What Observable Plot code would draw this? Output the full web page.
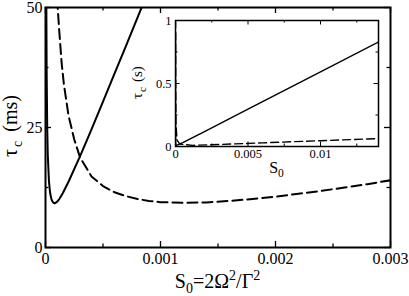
<!DOCTYPE html>
<html><head><meta charset="utf-8">
<script src="https://cdn.jsdelivr.net/npm/d3@7"></script>
<script src="https://cdn.jsdelivr.net/npm/@observablehq/plot@0.6"></script>
<style>
body{margin:0;background:#fff}
#wrap{position:relative;width:409px;height:296px}
#wrap svg{position:absolute;left:0;top:0}
</style>
</head><body><div id="wrap"></div>
<script>
// ---- main panel data: S0 (dimensionless), tau_c (ms)
const solidS = [0.000005, 0.000007, 0.00001, 0.000015, 0.00002, 0.00003, 0.00004, 0.00005, 0.00006, 0.00007, 0.00008, 0.0001, 0.00012, 0.00015, 0.0002, 0.0003, 0.0004, 0.0005, 0.0006, 0.0007, 0.0008, 0.0009];
const solidT = [72, 51.9, 36.6, 24.9, 19.2, 13.8, 11.4, 10.2, 9.6, 9.3, 9.2, 9.5, 10.1, 11.3, 13.7, 19.0, 24.6, 30.4, 36.2, 42.0, 47.9, 53.8];
const dashS = [0.00009, 0.0001, 0.00011, 0.00012, 0.00014, 0.00016, 0.0002, 0.00025, 0.0003, 0.0004, 0.0005, 0.0006, 0.0007, 0.0008, 0.0009, 0.001, 0.0012, 0.0014, 0.0016, 0.0018, 0.002, 0.0022, 0.0024, 0.0026, 0.0028, 0.003];
const dashT = [58, 52, 48.5, 45, 38.5, 34, 27.5, 22.5, 18.8, 14.8, 12.8, 11.5, 10.7, 10.1, 9.7, 9.45, 9.3, 9.4, 9.7, 10.1, 10.6, 11.2, 11.8, 12.5, 13.2, 14.0];

// ---- inset data: S0, tau_c (s)
const inSolidS = [0.0000004, 0.000001, 0.000003, 0.00001, 0.00003, 0.00008, 0.0005, 0.002, 0.005, 0.01, 0.014];
const inSolidT = [0.9, 0.36, 0.12, 0.036, 0.014, 0.0092, 0.03, 0.119, 0.297, 0.593, 0.83];
const inDashS = [0.000005, 0.00001, 0.00003, 0.0001, 0.0003, 0.0012, 0.003, 0.006, 0.01, 0.014];
const inDashT = [1.1, 0.56, 0.19, 0.053, 0.019, 0.0093, 0.016, 0.029, 0.046, 0.063];

// ---- ticks
const xMajor = [0, 0.001, 0.002, 0.003];
const xMajorLabels = ["0", "0.001", "0.002", "0.003"];
const xMinor = [0.0005, 0.0015, 0.0025];
const yMajor = [0, 25, 50];
const yMajorLabels = ["0", "25", "50"];
const yMinor = [12.5, 37.5];

const ixMajor = [0, 0.005, 0.01];
const ixMajorLabels = ["0", "0.005", "0.01"];
const ixMinor = [0.0025, 0.0075, 0.0125];
const iyMajor = [0, 0.5, 1];
const iyMajorLabels = ["0", "0.5", "1"];
const iyMinor = [0.25, 0.75];

const W = 409, H = 296;
const font = "Liberation Serif";

function zip(a, b) { return a.map((v, i) => ({s: v, t: b[i]})); }

function tickMarks(pw, ph, xM, xm, yM, ym, big, small, sw) {
  return [
    Plot.ruleX(xM, {x: d => d, insetTop: ph - big, strokeWidth: sw}),
    Plot.ruleX(xM, {x: d => d, insetBottom: ph - big, strokeWidth: sw}),
    Plot.ruleX(xm, {x: d => d, insetTop: ph - small, strokeWidth: sw}),
    Plot.ruleX(xm, {x: d => d, insetBottom: ph - small, strokeWidth: sw}),
    Plot.ruleY(yM, {y: d => d, insetRight: pw - big, strokeWidth: sw}),
    Plot.ruleY(yM, {y: d => d, insetLeft: pw - big, strokeWidth: sw}),
    Plot.ruleY(ym, {y: d => d, insetRight: pw - small, strokeWidth: sw}),
    Plot.ruleY(ym, {y: d => d, insetLeft: pw - small, strokeWidth: sw})
  ];
}

// main panel
const mL = 45, mR = 19, mT = 7, mB = 49;
const pw = W - mL - mR, ph = H - mT - mB;
const main = Plot.plot({
  width: W, height: H,
  marginLeft: mL, marginRight: mR, marginTop: mT, marginBottom: mB,
  x: {domain: [0, 0.003], axis: null},
  y: {domain: [0, 50], axis: null},
  style: {fontFamily: font, fontSize: "16px", background: "white", overflow: "visible"},
  marks: [
    Plot.line(zip(solidS, solidT), {x: "s", y: "t", stroke: "black", strokeWidth: 2, clip: true}),
    Plot.line(zip(dashS, dashT), {x: "s", y: "t", stroke: "black", strokeWidth: 2, strokeDasharray: "10,5", clip: true}),
    ...tickMarks(pw, ph, xMajor, xMinor, yMajor, yMinor, 6, 3.5, 1.3),
    Plot.frame({stroke: "black", strokeWidth: 2}),
    Plot.text(xMajor, {x: d => d, text: (d, i) => xMajorLabels[i], frameAnchor: "bottom", dy: 11, lineAnchor: "middle", fontSize: 16, fontFamily: font, fill: "black"}),
    Plot.text(yMajor, {y: d => d, text: (d, i) => yMajorLabels[i], frameAnchor: "left", dx: -3, textAnchor: "end", lineAnchor: "middle", fontSize: 16, fontFamily: font, fill: "black"})
  ]
});

// inset panel
const iL = 175, iR = 31, iT = 20, iB = 150;
const ipw = W - iL - iR, iph = H - iT - iB;
const inset = Plot.plot({
  width: W, height: H,
  marginLeft: iL, marginRight: iR, marginTop: iT, marginBottom: iB,
  x: {domain: [0, 0.014], axis: null},
  y: {domain: [0, 1], axis: null},
  style: {fontFamily: font, fontSize: "12.5px", background: "transparent", overflow: "visible"},
  marks: [
    Plot.frame({fill: "white", stroke: "none"}),
    Plot.line(zip(inSolidS, inSolidT), {x: "s", y: "t", stroke: "black", strokeWidth: 1.4, clip: true}),
    Plot.line(zip(inDashS, inDashT), {x: "s", y: "t", stroke: "black", strokeWidth: 1.4, strokeDasharray: "8,4", clip: true}),
    ...tickMarks(ipw, iph, ixMajor, ixMinor, iyMajor, iyMinor, 4.5, 2.5, 1),
    Plot.frame({stroke: "black", strokeWidth: 1.5}),
    Plot.text(ixMajor, {x: d => d, text: (d, i) => ixMajorLabels[i], frameAnchor: "bottom", dy: 7, lineAnchor: "middle", fontSize: 12.5, fontFamily: font, fill: "black"}),
    Plot.text(iyMajor, {y: d => d, text: (d, i) => iyMajorLabels[i], frameAnchor: "left", dx: -4, textAnchor: "end", lineAnchor: "middle", fontSize: 12.5, fontFamily: font, fill: "black"})
  ]
});

const wrap = document.getElementById("wrap");
wrap.appendChild(main);
wrap.appendChild(inset);

// axis titles with sub/superscripts
function addLabel(svg, x, y, rotate, anchor, size, parts) {
  const t = d3.select(svg).append("text")
    .attr("text-anchor", anchor)
    .attr("font-family", font)
    .attr("font-size", size)
    .attr("fill", "black")
    .attr("transform", `translate(${x},${y})` + (rotate ? ` rotate(${rotate})` : ""));
  for (const p of parts) {
    t.append("tspan").attr("dx", p.dx || 0).attr("dy", p.dy || 0).attr("font-size", p.size || size).text(p.text);
  }
}

addLabel(main, 217.5, 288, 0, "middle", 20, [
  {text: "S"}, {text: "0", size: 14, dy: 5}, {text: "=2Ω", dy: -5}, {text: "2", size: 14, dy: -8},
  {text: "/Γ", dy: 8}, {text: "2", size: 14, dy: -8}
]);
addLabel(main, 17, 157, -90, "start", 20, [
  {text: "τ"}, {text: "c", size: 14, dx: 2, dy: 5}, {text: "(ms)", dx: 9, dy: -5}
]);
addLabel(inset, 276.5, 173, 0, "middle", 16, [
  {text: "S"}, {text: "0", size: 11.5, dy: 4}
]);
addLabel(inset, 142, 99, -90, "start", 15, [
  {text: "τ"}, {text: "c", size: 11, dx: 1, dy: 4}, {text: "(s)", dx: 5, dy: -4}
]);
</script></body></html>
